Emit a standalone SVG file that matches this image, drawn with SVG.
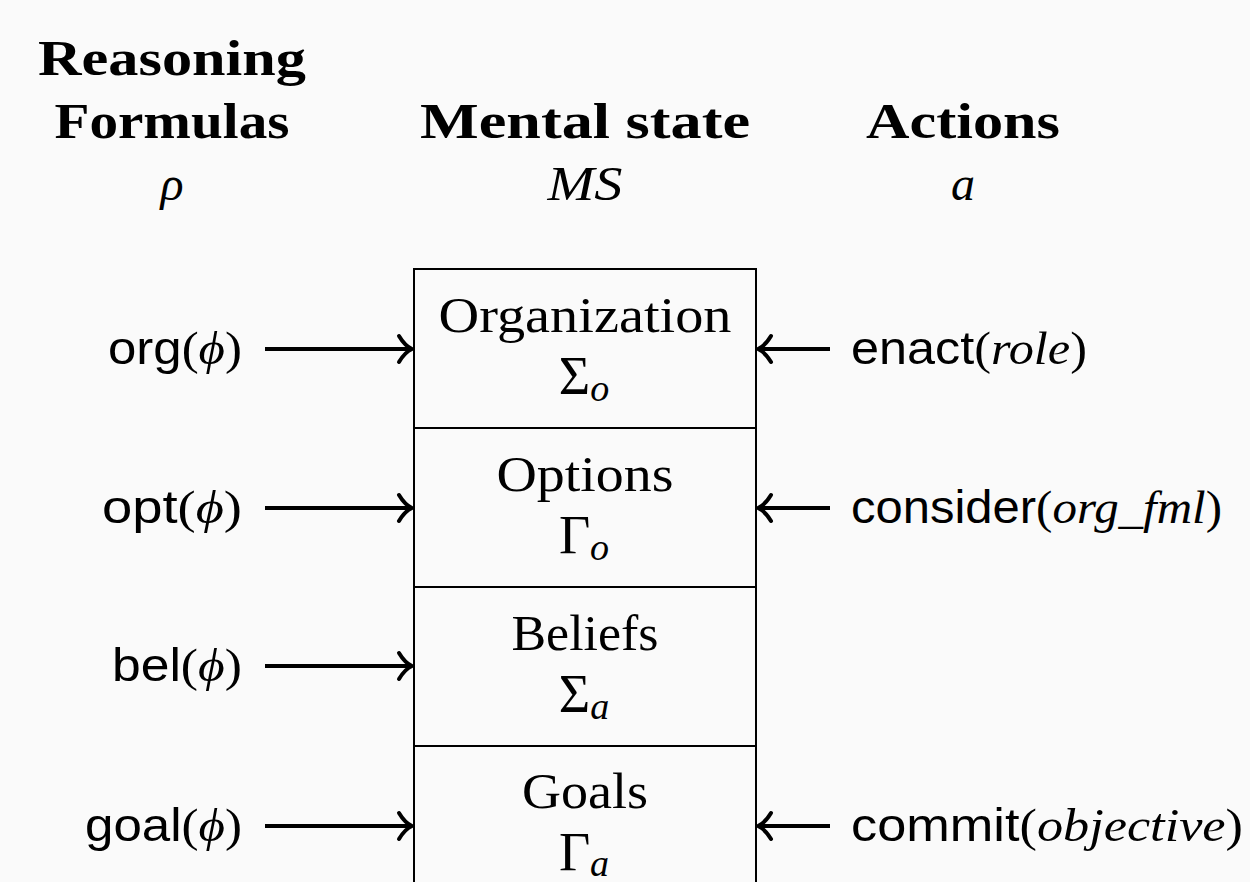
<svg xmlns="http://www.w3.org/2000/svg" width="1250" height="882" viewBox="0 0 1250 882">
<defs>
<style>
.hd{font-family:"Liberation Serif",serif;font-weight:bold;font-size:50px;text-anchor:middle;fill:#000}
.mi{font-family:"Liberation Serif",serif;font-style:italic;font-size:48px;text-anchor:middle;fill:#000}
.bx{font-family:"Liberation Serif",serif;font-size:50px;text-anchor:middle;fill:#000}
.gk{font-family:"Liberation Serif",serif;font-size:54px;text-anchor:middle;fill:#000}
.sf{font-family:"Liberation Sans",sans-serif;font-size:46px;fill:#000}
.rm{font-family:"Liberation Serif",serif;font-style:normal}
.it{font-family:"Liberation Serif",serif;font-style:italic}
.sub{font-family:"Liberation Serif",serif;font-style:italic;font-size:38px}
.cell{fill:none;stroke:#000;stroke-width:2}
.arr{stroke:#000;stroke-width:4;fill:none}
.hd2{stroke:#000;stroke-width:4;fill:none;stroke-linecap:round;stroke-linejoin:round}
</style>
</defs>
<rect width="1250" height="882" fill="#fafafa"/>
<g id="headers">
<text class="hd" x="172" y="75" textLength="268" lengthAdjust="spacingAndGlyphs">Reasoning</text>
<text class="hd" x="172" y="138" textLength="235" lengthAdjust="spacingAndGlyphs">Formulas</text>
<text class="mi" x="172" y="200">ρ</text>
<text class="hd" x="585" y="138" textLength="330" lengthAdjust="spacingAndGlyphs">Mental state</text>
<text class="mi" x="585" y="200" textLength="75" lengthAdjust="spacingAndGlyphs">MS</text>
<text class="hd" x="963" y="138" textLength="194" lengthAdjust="spacingAndGlyphs">Actions</text>
<text class="mi" x="963" y="200">a</text>
</g>
<g id="organization">
<rect class="cell" x="414" y="269" width="342" height="159"/>
<text class="bx" x="585" y="332" textLength="293" lengthAdjust="spacingAndGlyphs">Organization</text>
<text class="gk" x="584" y="394">Σ<tspan class="sub" dy="7">o</tspan></text>
</g>
<g id="options">
<rect class="cell" x="414" y="428" width="342" height="159"/>
<text class="bx" x="585" y="491" textLength="177" lengthAdjust="spacingAndGlyphs">Options</text>
<text class="gk" x="584" y="553">Γ<tspan class="sub" dy="7">o</tspan></text>
</g>
<g id="beliefs">
<rect class="cell" x="414" y="587" width="342" height="159"/>
<text class="bx" x="585" y="650" textLength="147" lengthAdjust="spacingAndGlyphs">Beliefs</text>
<text class="gk" x="584" y="712">Σ<tspan class="sub" dy="7">a</tspan></text>
</g>
<g id="goals">
<rect class="cell" x="414" y="746" width="342" height="159"/>
<text class="bx" x="585" y="808" textLength="126" lengthAdjust="spacingAndGlyphs">Goals</text>
<text class="gk" x="584" y="870">Γ<tspan class="sub" dy="6">a</tspan></text>
</g>
<g id="labels">
<text class="sf" x="242" y="364" text-anchor="end" textLength="134" lengthAdjust="spacingAndGlyphs">org<tspan class="rm">(</tspan><tspan class="it">ϕ</tspan><tspan class="rm">)</tspan></text>
<text class="sf" x="242" y="523" text-anchor="end" textLength="140" lengthAdjust="spacingAndGlyphs">opt<tspan class="rm">(</tspan><tspan class="it">ϕ</tspan><tspan class="rm">)</tspan></text>
<text class="sf" x="242" y="681" text-anchor="end" textLength="130" lengthAdjust="spacingAndGlyphs">bel<tspan class="rm">(</tspan><tspan class="it">ϕ</tspan><tspan class="rm">)</tspan></text>
<text class="sf" x="242" y="841" text-anchor="end" textLength="157" lengthAdjust="spacingAndGlyphs">goal<tspan class="rm">(</tspan><tspan class="it">ϕ</tspan><tspan class="rm">)</tspan></text>
<text class="sf" x="851" y="364" textLength="236" lengthAdjust="spacingAndGlyphs">enact<tspan class="rm">(</tspan><tspan class="it">role</tspan><tspan class="rm">)</tspan></text>
<text class="sf" x="851" y="523" textLength="371" lengthAdjust="spacingAndGlyphs">consider<tspan class="rm">(</tspan><tspan class="it">org_fml</tspan><tspan class="rm">)</tspan></text>
<text class="sf" x="851" y="841" textLength="392" lengthAdjust="spacingAndGlyphs">commit<tspan class="rm">(</tspan><tspan class="it">objective</tspan><tspan class="rm">)</tspan></text>
</g>
<g id="connectors">
<line class="arr" x1="265" y1="349" x2="411" y2="349"/><path class="hd2" d="M399 336 Q405 346 412 349 Q405 352 399 362"/>
<line class="arr" x1="265" y1="508" x2="411" y2="508"/><path class="hd2" d="M399 495 Q405 505 412 508 Q405 511 399 521"/>
<line class="arr" x1="265" y1="666" x2="411" y2="666"/><path class="hd2" d="M399 653 Q405 663 412 666 Q405 669 399 679"/>
<line class="arr" x1="265" y1="826" x2="411" y2="826"/><path class="hd2" d="M399 813 Q405 823 412 826 Q405 829 399 839"/>
<line class="arr" x1="830" y1="349" x2="759" y2="349"/><path class="hd2" d="M771 336 Q765 346 758 349 Q765 352 771 362"/>
<line class="arr" x1="830" y1="508" x2="759" y2="508"/><path class="hd2" d="M771 495 Q765 505 758 508 Q765 511 771 521"/>
<line class="arr" x1="830" y1="826" x2="759" y2="826"/><path class="hd2" d="M771 813 Q765 823 758 826 Q765 829 771 839"/>
</g>
</svg>
